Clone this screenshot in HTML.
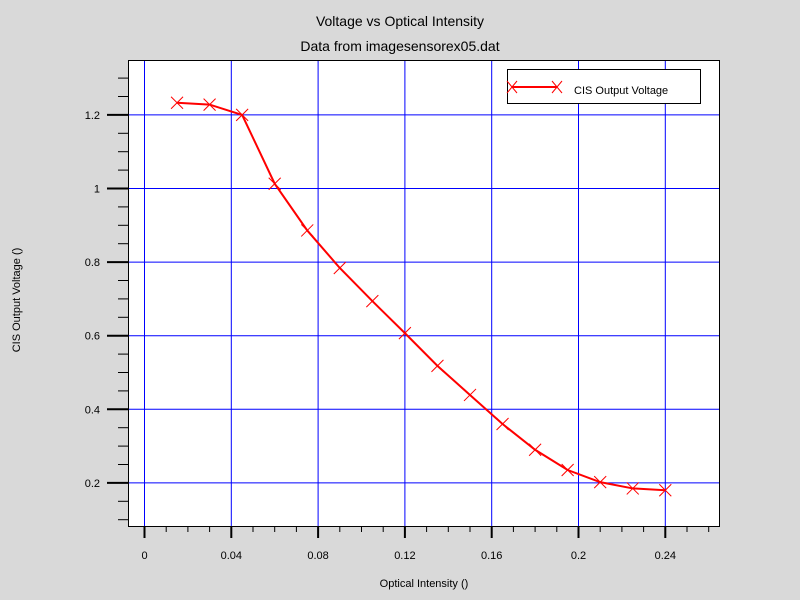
<!DOCTYPE html>
<html><head><meta charset="utf-8"><style>
body{margin:0;background:#d9d9d9;}
svg{display:block;font-family:"Liberation Sans",sans-serif;}
</style></head><body>
<svg id="c" width="800" height="600">
<rect x="0" y="0" width="800" height="600" fill="#d9d9d9"/>
<text x="400" y="26" text-anchor="middle" font-size="14">Voltage vs Optical Intensity</text>
<text x="400" y="51" text-anchor="middle" font-size="14">Data from imagesensorex05.dat</text>
<rect x="128.5" y="60.5" width="591" height="466" fill="#fff" stroke="#000"/>
<g id="grid"></g>
<g id="ticks"></g>
<g id="series"></g>
<text x="424" y="587" text-anchor="middle" font-size="11">Optical Intensity ()</text>
<text transform="translate(20,300) rotate(-90)" text-anchor="middle" font-size="11">CIS Output Voltage ()</text>
<g>
<rect x="507.5" y="69.5" width="193" height="34" fill="#fff" stroke="#000"/>
<line x1="512" y1="87" x2="557" y2="87" stroke="red" stroke-width="2"/>
<path d="M507,81 l10,12 M517,81 l-10,12 M552,81 l10,12 M562,81 l-10,12" stroke="red" stroke-width="1"/>
<text x="574" y="94" font-size="11">CIS Output Voltage</text>
</g>
</svg>
<script>
const xValues=[0.015,0.03,0.045,0.06,0.075,0.09,0.105,0.12,0.135,0.15,0.165,0.18,0.195,0.21,0.225,0.24];
const yValues=[1.233,1.228,1.2,1.013,0.886,0.784,0.694,0.607,0.518,0.439,0.36,0.29,0.235,0.202,0.185,0.18];
const xTicks=[0,0.04,0.08,0.12,0.16,0.2,0.24];
const xTickLabels=["0","0.04","0.08","0.12","0.16","0.2","0.24"];
const yTicks=[0.2,0.4,0.6,0.8,1,1.2];
const yTickLabels=["0.2","0.4","0.6","0.8","1","1.2"];
const NS="http://www.w3.org/2000/svg";
function X(v){return 144.5+v*2170;}
function Y(v){return 188.5-(v-1)*368;}
function mk(p,t,a){const e=document.createElementNS(NS,t);for(const k in a)e.setAttribute(k,a[k]);p.appendChild(e);return e;}
const grid=document.getElementById('grid'),ticks=document.getElementById('ticks'),ser=document.getElementById('series');
xTicks.forEach((v,i)=>{
 const g=mk(grid,'line',{x1:X(v),x2:X(v),y1:61,y2:526,stroke:'#0000ff','stroke-width':1});
 
 
 const t=mk(ticks,'line',{x1:X(v),x2:X(v),y1:527,y2:538,stroke:'#000','stroke-width':2});
 
 
 const l=mk(ticks,'text',{x:X(v),y:559,'text-anchor':'middle','font-size':11});
 l.textContent=xTickLabels[i];
 
 
});
for(let k=1;k<=26;k++){
 if(k%4===0)continue;
 const v=k*0.01;
 const m=mk(ticks,'line',{x1:X(v),x2:X(v),y1:527,y2:532,stroke:'#000','stroke-width':1});
 
 
}
yTicks.forEach((v,i)=>{
 const g=mk(grid,'line',{x1:129,x2:719,y1:Y(v),y2:Y(v),stroke:'#0000ff','stroke-width':1});
 
 
 const t=mk(ticks,'line',{x1:107,x2:128,y1:Y(v),y2:Y(v),stroke:'#000','stroke-width':2});
 
 
 const l=mk(ticks,'text',{x:100,y:Y(v)+4,'text-anchor':'end','font-size':11});
 l.textContent=yTickLabels[i];
 
 
});
for(let k=2;k<=26;k++){
 const v=k*0.05; if(k%4===0)continue;
 const y=Y(v); if(y<61||y>526)continue;
 const m=mk(ticks,'line',{x1:118,x2:128,y1:y,y2:y,stroke:'#000','stroke-width':1});
 
 
}
const pts=xValues.map((v,i)=>X(v)+','+Y(yValues[i])).join(' ');
const pl=mk(ser,'polyline',{points:pts,fill:'none',stroke:'red','stroke-width':2});


xValues.forEach((v,i)=>{
 const x=X(v),y=Y(yValues[i]);
 const p=mk(ser,'path',{d:`M${x-6},${y-6}L${x+6},${y+6}M${x+6},${y-6}L${x-6},${y+6}`,stroke:'red','stroke-width':1});
 
 
});
</script>
</body></html>
